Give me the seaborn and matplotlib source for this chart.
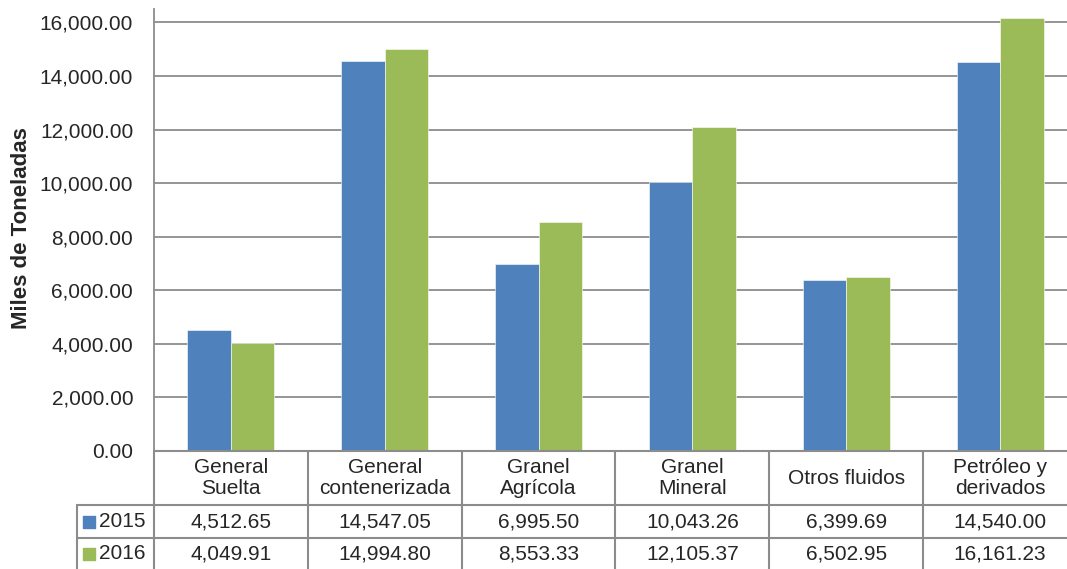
import matplotlib
matplotlib.use("Agg")
import matplotlib.pyplot as plt
import seaborn as sns
import pandas as pd

# Cargo categories and tonnage (thousands of tonnes) per year
categories = ["General\nSuelta", "General\ncontenerizada", "Granel\nAgrícola",
              "Granel\nMineral", "Otros fluidos", "Petróleo y\nderivados"]
years = ["2015", "2016"]
values_2015 = [4512.65, 14547.05, 6995.50, 10043.26, 6399.69, 14540.00]
values_2016 = [4049.91, 14994.80, 8553.33, 12105.37, 6502.95, 16161.23]
y_ticks = [0, 2000, 4000, 6000, 8000, 10000, 12000, 14000, 16000]

colors = {"2015": "#4F81BD", "2016": "#9BBB59"}
grid_gray = "#8C8C8C"

df = pd.DataFrame({
    "cat": categories * 2,
    "year": ["2015"] * len(categories) + ["2016"] * len(categories),
    "value": values_2015 + values_2016,
})

sns.set_theme(style="white")
plt.rcParams["font.family"] = ["Liberation Sans", "DejaVu Sans"]
FS = 15

W, H = 1067, 569
fig = plt.figure(figsize=(W / 100, H / 100), dpi=100)

# Plot area (extends slightly beyond the right edge of the canvas)
ax = fig.add_axes([154 / W, (H - 451) / H, (1077 - 154) / W, 442 / H])
sns.barplot(data=df, x="cat", y="value", hue="year", order=categories,
            hue_order=years, palette=colors, width=0.565, ax=ax,
            edgecolor="white", linewidth=0.4, legend=False, saturation=1)
ax.set_xlim(-0.5, 5.5)
ax.set_ylim(0, 16500)
ax.set_yticks(y_ticks)
ax.set_yticklabels([f"{v:,.2f}" for v in y_ticks], fontsize=FS)
ax.tick_params(axis="y", length=0, pad=15)
ax.set_xticks([])
ax.set_xlabel("")
ax.set_ylabel("")
ax.yaxis.grid(True, color=grid_gray, linewidth=1.3)
ax.set_axisbelow(True)
for s in ["top", "right", "bottom"]:
    ax.spines[s].set_visible(False)
ax.spines["left"].set_color(grid_gray)
ax.spines["left"].set_linewidth(1.3)

fig.text(22 / W, 1 - 228 / H, "Miles de Toneladas", rotation=90,
         ha="center", va="center", fontsize=16, fontweight="bold")

# Data table beneath the plot
tax = fig.add_axes([77 / W, 0, (1077 - 77) / W, 118 / H])
tax.set_xlim(-1.0, 5.5)
tax.set_ylim(0, 118)
tax.axis("off")
lw = 1.5
# horizontal rules
tax.plot([-0.5, 5.5], [118, 118], color=grid_gray, lw=lw, clip_on=False)
for yy in (64, 31):
    tax.plot([-1.0, 5.5], [yy, yy], color=grid_gray, lw=lw, clip_on=False)
# vertical rules
tax.plot([-1.0, -1.0], [0, 64], color=grid_gray, lw=lw, clip_on=False)
for i in range(6):
    tax.plot([i - 0.5, i - 0.5], [0, 118], color=grid_gray, lw=lw, clip_on=False)

for i, c in enumerate(categories):
    tax.text(i, 91, c, ha="center", va="center", fontsize=FS, linespacing=1.15)
    tax.text(i, 47.5, f"{values_2015[i]:,.2f}", ha="center", va="center", fontsize=FS)
    tax.text(i, 15.5, f"{values_2016[i]:,.2f}", ha="center", va="center", fontsize=FS)

for yr, yc in (("2015", 47.5), ("2016", 15.5)):
    tax.scatter([-0.919], [yc], marker="s", s=80, color=colors[yr], clip_on=False)
    tax.text(-0.855, yc, yr, ha="left", va="center", fontsize=FS)

fig.savefig("out.png", dpi=100)
